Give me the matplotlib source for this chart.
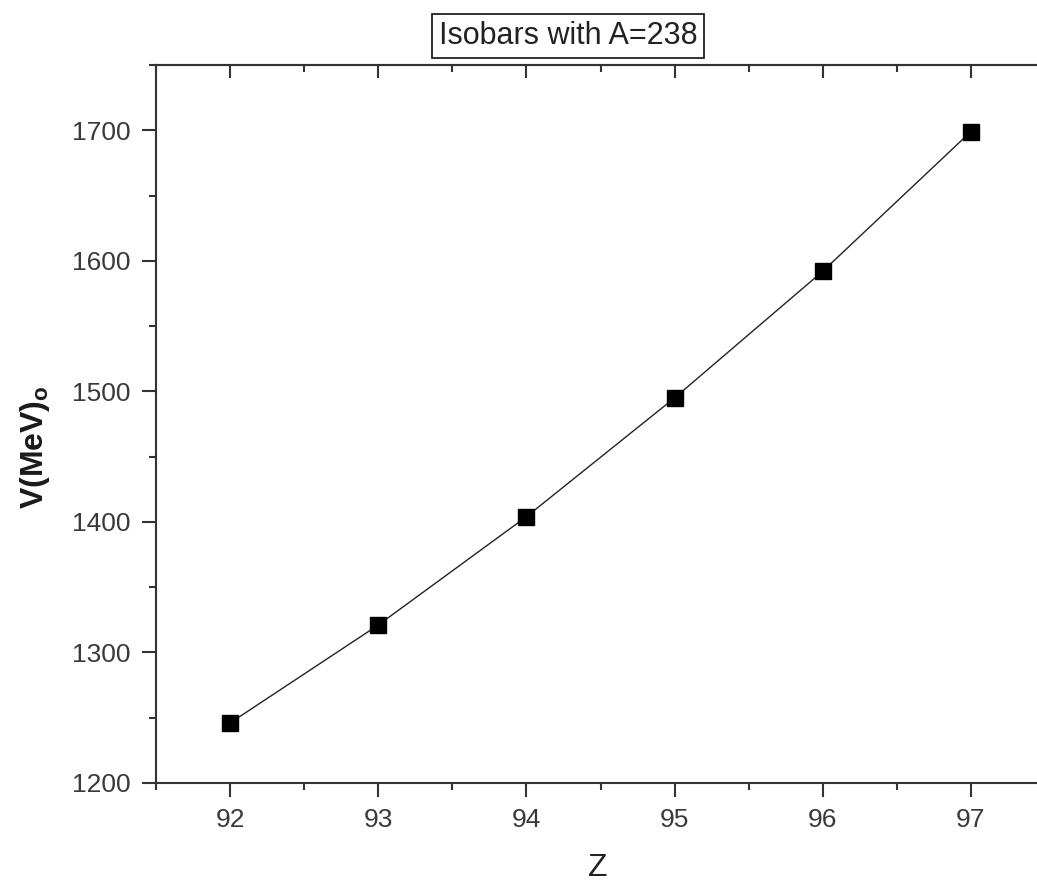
import matplotlib
matplotlib.use("Agg")
import matplotlib.pyplot as plt
from matplotlib.ticker import MultipleLocator

# Data
z_values = [92, 93, 94, 95, 96, 97]
v_values = [1246, 1321, 1404, 1495, 1592, 1699]
x_ticks = [92, 93, 94, 95, 96, 97]
y_ticks = [1200, 1300, 1400, 1500, 1600, 1700]
title_text = "Isobars with A=238"
x_label = "Z"
y_label = r"V(MeV)$_\mathregular{o}$"

plt.rcParams['font.family'] = ['Liberation Sans', 'DejaVu Sans']

W, H = 1037, 886
fig = plt.figure(figsize=(W / 100, H / 100), dpi=100)
ax_left, ax_right = 156 / W, 1045 / W
ax_bottom, ax_top = 1 - 783 / H, 1 - 65 / H
ax = fig.add_axes([ax_left, ax_bottom, ax_right - ax_left, ax_top - ax_bottom])

ax.plot(z_values, v_values, color='#222222', lw=1.0, marker='s', ms=11,
        mfc='black', mec='black', zorder=3)

ax.set_xlim(91.5, 97.5)
ax.set_ylim(1200, 1750)
ax.set_xticks(x_ticks)
ax.set_yticks(y_ticks)
ax.xaxis.set_minor_locator(MultipleLocator(0.5))
ax.yaxis.set_minor_locator(MultipleLocator(50))

for s in ax.spines.values():
    s.set_linewidth(1.5)
    s.set_color('#333333')
ax.spines['right'].set_visible(False)

ax.tick_params(axis='both', which='major', direction='out', length=10, width=1.5,
               color='#333333', labelsize=19, labelcolor='#3a3a3a', pad=8)
ax.tick_params(axis='both', which='minor', direction='out', length=5, width=1.5,
               color='#333333')
ax.tick_params(axis='y', which='both', right=False)

# top ticks pointing inward
sec = ax.secondary_xaxis('top')
sec.set_xticks(x_ticks)
sec.xaxis.set_minor_locator(MultipleLocator(0.5))
sec.tick_params(which='major', direction='in', length=9, width=1.5, color='#333333',
                labeltop=False)
sec.tick_params(which='minor', direction='in', length=5, width=1.5, color='#333333')
sec.spines['top'].set_linewidth(1.5)
sec.spines['top'].set_color('#333333')

fig.text(598 / W, 1 - 883 / H, x_label, ha='center', va='bottom', fontsize=23,
         color='#222222')
fig.text(35 / W, 1 - 447 / H, y_label, ha='center', va='center', rotation=90,
         fontsize=23, color='#1a1a1a', fontweight='semibold')

fig.text(568 / W, 1 - 36 / H, title_text, ha='center', va='center', fontsize=22,
         color='#222222',
         bbox=dict(boxstyle='square,pad=0.22', fc='white', ec='#222222', lw=1.3))

fig.savefig("out.png", dpi=100)
